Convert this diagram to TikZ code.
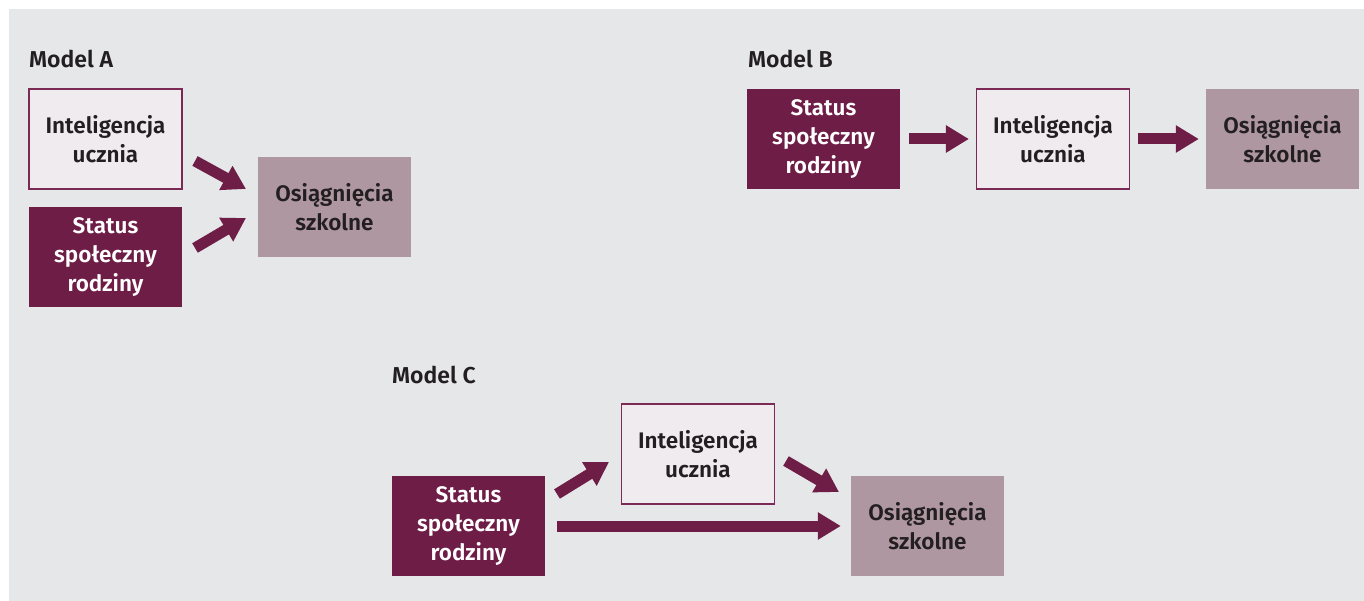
\documentclass[tikz,border=0pt]{standalone}
\usepackage{fontspec}
\setmainfont{Fira Sans}[UprightFont=* SemiBold, BoldFont=* Bold]
\usetikzlibrary{arrows.meta}
\definecolor{bggray}{HTML}{E6E7E9}
\definecolor{plum}{HTML}{6E1D46}
\definecolor{plumedge}{HTML}{7A2A55}
\definecolor{lightbox}{HTML}{EFEBEF}
\definecolor{mauve}{HTML}{AE97A0}
\definecolor{ink}{HTML}{231F20}
\tikzset{
  box/.style={minimum width=153pt, minimum height=100pt, inner sep=0pt,
    align=center, font=\fontsize{22.5}{28.8}\selectfont},
  intbox/.style={box, fill=lightbox, draw=plumedge, line width=1.2pt, text=ink},
  statbox/.style={box, fill=plum, text=white},
  osbox/.style={box, fill=mauve, text=ink},
  title/.style={anchor=west, inner sep=0pt, text=ink, font=\fontsize{23}{26}\selectfont},
  fatarrow/.style={draw=plum, line width=11pt,
    -{Triangle[length=23pt,width=26pt]}},
}
\begin{document}
\begin{tikzpicture}[x=1pt,y=-1pt]
\useasboundingbox (0,0) rectangle (1364,601);
\fill[bggray] (9,9) rectangle (1364,601);

% Model A
\node[title] (ta) at (29,59) {Model A};
\node[intbox] (a1) at (105.5,139) {Inteligencja\\ucznia};
\node[statbox] (a2) at (105.5,257) {Status\\społeczny\\rodziny};
\node[osbox] (a3) at (334.5,207) {Osiągnięcia\\szkolne};
\coordinate (a1s) at (195,161);
\coordinate (a1e) at (246,189);
\coordinate (a2s) at (195,248);
\coordinate (a2e) at (246,218);
\draw[fatarrow] (a1s) -- (a1e);
\draw[fatarrow] (a2s) -- (a2e);

% Model B
\node[title] (tb) at (748,59) {Model B};
\node[statbox] (b1) at (823.5,139) {Status\\społeczny\\rodziny};
\node[intbox] (b2) at (1053,139) {Inteligencja\\ucznia};
\node[osbox] (b3) at (1282.5,139) {Osiągnięcia\\szkolne};
\draw[fatarrow] ([xshift=9pt]b1.east) -- ([xshift=-7pt]b2.west);
\draw[fatarrow] ([xshift=8pt]b2.east) -- ([xshift=-7pt]b3.west);

% Model C
\node[title] (tc) at (392,375) {Model C};
\node[statbox] (c1) at (468.5,526) {Status\\społeczny\\rodziny};
\node[intbox] (c2) at (698,454) {Inteligencja\\ucznia};
\node[osbox] (c3) at (927.5,526) {Osiągnięcia\\szkolne};
\coordinate (c1s) at (557,494);
\coordinate (c1e) at (609,462);
\coordinate (c2s) at (786,461);
\coordinate (c2e) at (839,492);
\draw[fatarrow] (c1s) -- (c1e);
\draw[fatarrow] (c2s) -- (c2e);
\draw[fatarrow] ([xshift=12pt]c1.east) -- ([xshift=-10pt]c3.west);
\end{tikzpicture}
\end{document}
